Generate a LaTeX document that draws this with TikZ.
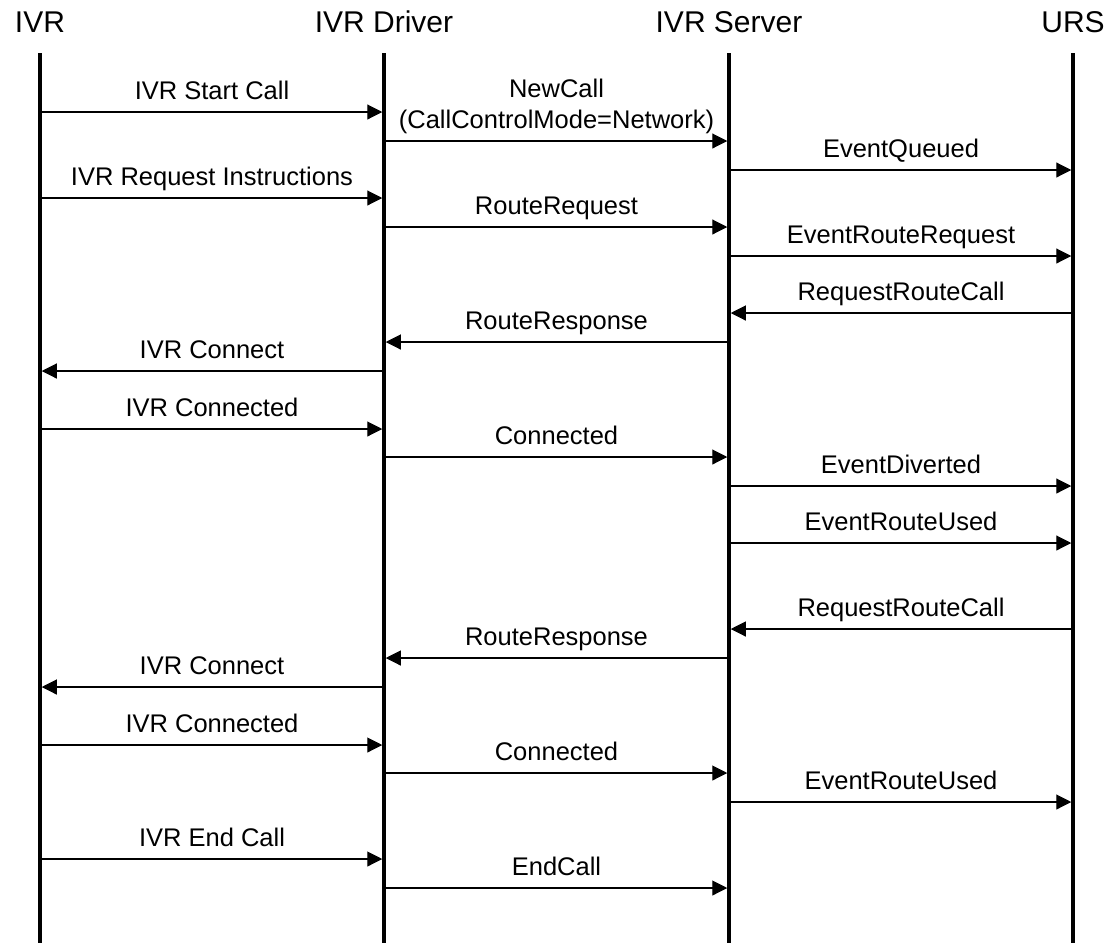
\documentclass[tikz,border=0pt]{standalone}
\usepackage{fontspec}
\setmainfont{Liberation Sans}
\usetikzlibrary{arrows.meta}
\tikzset{
  head/.style={anchor=base, inner sep=0pt, font=\fontsize{30}{36}\selectfont},
  lifeline/.style={line width=3.5pt},
  msgline/.style={line width=1.1pt, -{Triangle[length=15pt,width=15pt]}, shorten >=1.75pt, shorten <=1.75pt},
  msglabel/.style={midway, anchor=base, yshift=13pt, inner sep=0pt, align=center, font=\fontsize{25.5}{31}\selectfont}
}
\newcommand{\seqmsg}[5]{%
  \coordinate (#1s) at (#2,#4);
  \coordinate (#1e) at (#3,#4);
  \draw[msgline] (#1s) -- node[msglabel]{#5} (#1e);
}
\begin{document}
\begin{tikzpicture}[x=1pt,y=-1pt]
\useasboundingbox (0,0) rectangle (1108,943);
% headers
\node[head] (hIVR) at (40,32) {IVR};
\node[head] (hDrv) at (384,32) {IVR Driver};
\node[head] (hSrv) at (729,32) {IVR Server};
\node[head] (hURS) at (1073,32) {URS};
% lifelines
\coordinate (IVRtop) at (40,53);   \coordinate (IVRbot) at (40,943);
\coordinate (Drvtop) at (384,53);  \coordinate (Drvbot) at (384,943);
\coordinate (Srvtop) at (729,53);  \coordinate (Srvbot) at (729,943);
\coordinate (URStop) at (1073,53); \coordinate (URSbot) at (1073,943);
\draw[lifeline] (IVRtop) -- (IVRbot);
\draw[lifeline] (Drvtop) -- (Drvbot);
\draw[lifeline] (Srvtop) -- (Srvbot);
\draw[lifeline] (URStop) -- (URSbot);
% messages
\seqmsg{m1}{40}{384}{112}{IVR Start Call}
\seqmsg{m2}{384}{729}{141}{NewCall\\(CallControlMode=Network)}
\seqmsg{m3}{729}{1073}{170}{EventQueued}
\seqmsg{m4}{40}{384}{198}{IVR Request Instructions}
\seqmsg{m5}{384}{729}{227}{RouteRequest}
\seqmsg{m6}{729}{1073}{256}{EventRouteRequest}
\seqmsg{m7}{1073}{729}{313}{RequestRouteCall}
\seqmsg{m8}{729}{384}{342}{RouteResponse}
\seqmsg{m9}{384}{40}{371}{IVR Connect}
\seqmsg{m10}{40}{384}{429}{IVR Connected}
\seqmsg{m11}{384}{729}{457}{Connected}
\seqmsg{m12}{729}{1073}{486}{EventDiverted}
\seqmsg{m13}{729}{1073}{543}{EventRouteUsed}
\seqmsg{m14}{1073}{729}{629}{RequestRouteCall}
\seqmsg{m15}{729}{384}{658}{RouteResponse}
\seqmsg{m16}{384}{40}{687}{IVR Connect}
\seqmsg{m17}{40}{384}{745}{IVR Connected}
\seqmsg{m18}{384}{729}{773}{Connected}
\seqmsg{m19}{729}{1073}{802}{EventRouteUsed}
\seqmsg{m20}{40}{384}{859}{IVR End Call}
\seqmsg{m21}{384}{729}{888}{EndCall}
\end{tikzpicture}
\end{document}
